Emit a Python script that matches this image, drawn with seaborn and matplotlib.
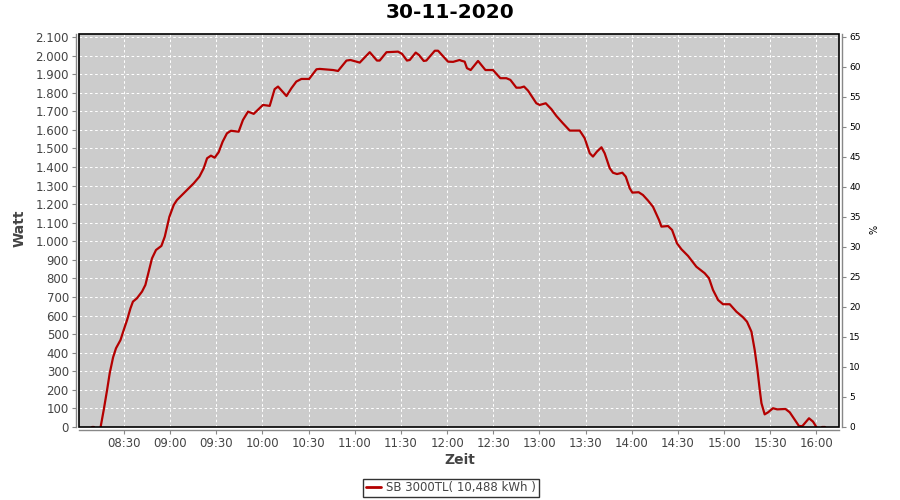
import numpy as np
import pandas as pd
import matplotlib
matplotlib.use("Agg")
import matplotlib.pyplot as plt
import seaborn as sns
from matplotlib.ticker import FuncFormatter, MultipleLocator
from matplotlib.patches import Rectangle
from matplotlib.lines import Line2D

# ---- data: minutes after 08:00 and power in Watt ----
early_minutes = [9.3, 10.6]
early_watt = [0, 0]

main_minutes = [
    14.8, 16.8, 19.0, 20.7, 22.9, 24.8, 27.7, 29.8, 32.0, 34.2, 35.8, 38.4, 41.7, 43.9,
    46.0, 48.2, 50.8, 54.3, 56.5, 58.0, 59.5, 62.3, 64.4, 69.9, 75.3, 79.0, 81.8, 84.0,
    86.5, 88.9, 91.5, 94.1, 96.9, 99.5, 104.5, 107.3, 110.6, 114.3, 120.3, 124.7, 127.9,
    130.1, 135.6, 138.8, 142.0, 145.3, 150.3, 155.1, 157.2, 165.9, 169.1, 174.6, 177.2,
    183.2, 189.7, 194.4, 196.2, 200.6, 208.1, 210.7, 213.9, 215.7, 219.6, 221.7, 224.8,
    226.5, 232.0, 234.1, 240.6, 243.9, 248.1, 249.3, 251.4, 252.9, 255.3, 260.1, 264.9,
    269.8, 274.6, 278.5, 281.1, 285.0, 287.6, 290.0, 292.6, 298.0, 300.2, 304.1, 307.8,
    311.0, 315.3, 319.7, 326.2, 329.4, 332.7, 334.8, 337.4, 340.3, 342.4, 345.7, 347.8,
    350.4, 353.9, 356.1, 358.7, 360.4, 364.5, 367.3, 370.6, 373.8, 377.7, 379.3, 383.6,
    386.2, 389.4, 392.3, 396.6, 402.0, 407.4, 410.2, 412.8, 416.1, 419.3, 423.7, 428.0,
    432.3, 434.9, 437.8, 439.9, 441.7, 443.2, 444.3, 446.4, 448.6, 451.8, 454.5, 459.9,
    462.7, 465.3, 468.7, 470.9, 475.2, 477.8, 480.0,
]
main_watt = [
    0, 91, 199, 289, 375, 424, 468, 522, 576, 639, 675, 693, 729, 765,
    836, 908, 953, 975, 1025, 1079, 1132, 1195, 1222, 1267, 1312, 1348, 1393, 1447,
    1461, 1450, 1479, 1536, 1581, 1595, 1590, 1653, 1698, 1686, 1734, 1729, 1819,
    1833, 1782, 1824, 1860, 1874, 1874, 1926, 1928, 1922, 1917, 1973, 1976,
    1962, 2018, 1973, 1973, 2018, 2021, 2009, 1973, 1976, 2016, 2003, 1971,
    1973, 2026, 2026, 1967, 1966, 1976, 1972, 1967, 1932, 1922, 1971, 1922,
    1922, 1878, 1878, 1869, 1827, 1827, 1833, 1811, 1743, 1734, 1743, 1711,
    1675, 1635, 1596, 1596, 1555, 1474, 1456, 1483, 1506, 1474, 1393, 1369,
    1362, 1369, 1348, 1285, 1262, 1264, 1249, 1219, 1186, 1115, 1079, 1082,
    1061, 989, 957, 921, 863, 828, 801, 738, 684, 661, 661, 621,
    591, 567, 513, 415, 307, 199, 128, 68, 79, 101, 95, 97,
    79, 47, 5, 5, 47, 29, 0,
]

late_minutes = [483.9, 485.5]
late_watt = [0, 0]

tick_minutes = [30, 60, 90, 120, 150, 180, 210, 240, 270, 300, 330, 360, 390, 420, 450, 480]
watt_ticks = list(range(0, 2101, 100))
pct_ticks = list(range(0, 66, 5))

title = "30-11-2020"
legend_label = "SB 3000TL( 10,488 kWh )"

line_color = "#b40000"

df = pd.concat([
    pd.DataFrame({"t": early_minutes, "W": early_watt, "seg": 0}),
    pd.DataFrame({"t": main_minutes, "W": main_watt, "seg": 1}),
    pd.DataFrame({"t": late_minutes, "W": late_watt, "seg": 2}),
], ignore_index=True)

sns.set_theme(style="white")
plt.rcParams["font.family"] = ["DejaVu Sans"]

fig = plt.figure(figsize=(9, 5), dpi=100)
ax = fig.add_axes([79 / 900, 73 / 500, 760 / 900, 393 / 500])
ax.set_facecolor("#cccccc")

sns.lineplot(data=df, x="t", y="W", units="seg", estimator=None, color=line_color,
             linewidth=1.6, ax=ax, legend=False, sort=False)

ax.set_xlim(0.75, 494.7)
ax.set_ylim(0, 2116)
ax.set_xlabel("")
ax.set_ylabel("")
ax.set_xticks(tick_minutes)
ax.set_yticks(watt_ticks)
ax.xaxis.set_major_formatter(FuncFormatter(lambda v, p: f"{8 + int(v) // 60:02d}:{int(v) % 60:02d}"))
ax.yaxis.set_major_formatter(FuncFormatter(lambda v, p: f"{int(v):,}".replace(",", ".")))
ax.set_axisbelow(True)
ax.grid(True, color="white", linestyle=(0, (2.5, 2.5)), linewidth=0.75)

for s in ["top", "right"]:
    ax.spines[s].set_visible(False)
for s in ["left", "bottom"]:
    ax.spines[s].set_position(("outward", 2.3))
    ax.spines[s].set_color("#888888")
    ax.spines[s].set_linewidth(1.0)
ax.tick_params(axis="both", which="major", length=3, width=0.8, color="#888888",
               labelsize=8.5, labelcolor="#444444", pad=2, direction="out",
               left=True, bottom=True)

ax.add_patch(Rectangle((0, 0), 1, 1, transform=ax.transAxes, fill=False,
                       edgecolor="black", linewidth=1.2, zorder=5, clip_on=False))

ax2 = ax.twinx()
ax2.set_ylim(0, 2116 / 32.31)
ax2.set_yticks(pct_ticks)
for s in ["top", "left", "bottom"]:
    ax2.spines[s].set_visible(False)
ax2.spines["right"].set_position(("outward", 2.3))
ax2.spines["right"].set_color("#888888")
ax2.spines["right"].set_linewidth(1.0)
ax2.tick_params(axis="y", length=3, width=0.8, color="#888888", labelsize=6.5,
                labelcolor="black", pad=2, right=True)
ax2.grid(False)

fig.text(0.5, 1 - 13 / 500, title, ha="center", va="center", fontsize=14.5,
         fontweight="bold", color="black")
fig.text(20 / 900, 1 - 228 / 500, "Watt", ha="center", va="center", rotation=90,
         fontsize=10, fontweight="bold", color="#444444")
fig.text(460 / 900, 1 - 460 / 500, "Zeit", ha="center", va="center",
         fontsize=10, fontweight="bold", color="#444444")
fig.text(874 / 900, 1 - 229 / 500, "%", ha="center", va="center", rotation=90,
         fontsize=7, color="black")

leg = fig.legend(handles=[Line2D([], [], color=line_color, linewidth=2)],
                 labels=[legend_label], loc="center",
                 bbox_to_anchor=(451 / 900, 1 - 488 / 500), frameon=True,
                 fancybox=False, edgecolor="black", fontsize=8.5, handlelength=1.3,
                 handletextpad=0.4, borderpad=0.25, borderaxespad=0)
leg.get_frame().set_linewidth(1.0)
for t in leg.get_texts():
    t.set_color("#444444")

fig.savefig("out.png", dpi=100, facecolor="white")
